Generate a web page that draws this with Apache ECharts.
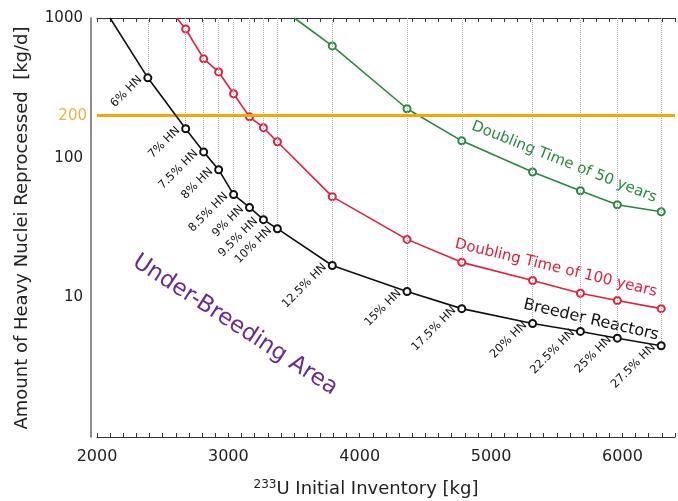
<!DOCTYPE html>
<html>
<head>
<meta charset="utf-8">
<script src="https://cdn.jsdelivr.net/npm/echarts@6/dist/echarts.min.js"></script>
<style>
html, body { margin: 0; padding: 0; background: #fff; }
#chart { width: 678px; height: 501px; }
</style>
</head>
<body>
<div id="chart"></div>
<script>
// breeder reactor points (HN fraction), x = 233U inventory [kg], y = kg/d
var inventory = [2387, 2675, 2812, 2926, 3040, 3161, 3267, 3373, 3791, 4360, 4777, 5316, 5680, 5961, 6295];
var hnLabels = ['6% HN', '7% HN', '7.5% HN', '8% HN', '8.5% HN', '9% HN', '9.5% HN', '10% HN',
	'12.5% HN', '15% HN', '17.5% HN', '20% HN', '22.5% HN', '25% HN', '27.5% HN'];
var breeder = [373, 161, 110, 82, 54.4, 44, 36, 31, 16.9, 11.0, 8.3, 6.5, 5.7, 5.1, 4.5];
var breederEntry = [2099, 1000];

var inventory100 = [2675, 2812, 2926, 3040, 3161, 3267, 3373, 3791, 4360, 4777, 5316, 5680, 5961, 6295];
var doubling100 = [834, 510, 411, 287, 196, 164, 130, 52.6, 26, 17.8, 13.2, 10.7, 9.5, 8.3];
var entry100 = [2607, 1000];

var inventory50 = [3791, 4360, 4777, 5316, 5680, 5961, 6295];
var doubling50 = [631, 224, 132, 79, 58, 46, 41];
var entry50 = [3502, 1000];

var xTicks = [2000, 3000, 4000, 5000, 6000];
var yTicks = [10, 100, 1000];
var threshold = 200;

var FONT = 'DejaVu Sans';

function pts(xs, ys, entry) {
	var out = [{ value: entry, symbol: 'none', label: { show: false } }];
	for (var i = 0; i < xs.length; i++) out.push([xs[i], ys[i]]);
	return out;
}

// dotted guides from the top down to each breeder point
var gridLines = inventory.map(function (x, i) {
	return [{ coord: [x, 1000] }, { coord: [x, breeder[i]] }];
});
gridLines.push({ yAxis: threshold, lineStyle: { color: '#f5a800', width: 3, type: 'solid' },
	label: { show: true, position: 'start', formatter: String(threshold), color: '#e8b54a',
		fontSize: 15, fontFamily: FONT, distance: 10 } });

var myChart = echarts.init(document.getElementById('chart'));
var option = {
	animation: false,
	textStyle: { fontFamily: FONT },
	grid: { left: 97, right: 1, top: 18, bottom: 64 },
	xAxis: [
		{
			type: 'value', min: 2000, max: 6400, interval: 1000,
			axisLine: { show: true, lineStyle: { color: '#333', width: 1 } },
			axisTick: { show: true, inside: true, length: 4, lineStyle: { color: '#333' } },
			minorTick: { show: true, splitNumber: 10, length: 4, lineStyle: { color: '#333' } },
			axisLabel: {
				fontSize: 16, color: '#222', margin: 12, fontFamily: FONT,
				formatter: function (v) { return xTicks.indexOf(v) >= 0 ? String(v) : ''; }
			},
			splitLine: { show: false }
		},
		{
			type: 'value', position: 'top', min: 2000, max: 6400, interval: 1000,
			axisLine: { show: true, lineStyle: { color: '#333', width: 1 } },
			axisTick: { show: true, inside: true, length: 4, lineStyle: { color: '#333' } },
			minorTick: { show: true, splitNumber: 10, length: 4, lineStyle: { color: '#333' } },
			axisLabel: { show: false },
			splitLine: { show: false }
		}
	],
	yAxis: {
		type: 'log', logBase: 10, min: 1, max: 1000, offset: 6,
		axisLine: { show: true, lineStyle: { color: '#666', width: 1.5 } },
		axisTick: { show: false },
		axisLabel: {
			fontSize: 15, color: '#222', margin: 8, fontFamily: FONT,
			formatter: function (v) { return yTicks.indexOf(v) >= 0 ? String(v) : ''; }
		},
		splitLine: { show: false }
	},
	series: [
		{
			type: 'line', data: [], silent: true, z: 1,
			markLine: {
				silent: true, symbol: ['none', 'none'], animation: false,
				label: { show: false },
				lineStyle: { color: '#aaa', type: 'dotted', width: 1 },
				data: gridLines
			}
		},
		{
			name: 'Breeder Reactors', type: 'line', z: 5,
			color: '#111',
			symbol: 'emptyCircle', symbolSize: 7, showAllSymbol: true,
			lineStyle: { width: 1.6 },
			itemStyle: { borderWidth: 1.5 },
			label: {
				show: true, position: 'left', rotate: 45, distance: 3,
				fontSize: 11.5, color: '#111', fontFamily: FONT,
				formatter: function (p) { return hnLabels[p.dataIndex - 1] || ''; }
			},
			data: pts(inventory, breeder, breederEntry)
		},
		{
			name: 'Doubling Time of 100 years', type: 'line', z: 4,
			color: '#e3203c',
			symbol: 'emptyCircle', symbolSize: 7, showAllSymbol: true,
			lineStyle: { width: 1.6 },
			itemStyle: { borderWidth: 1.5 },
			data: pts(inventory100, doubling100, entry100)
		},
		{
			name: 'Doubling Time of 50 years', type: 'line', z: 4,
			color: '#2a8a3c',
			symbol: 'emptyCircle', symbolSize: 7, showAllSymbol: true,
			lineStyle: { width: 1.6 },
			itemStyle: { borderWidth: 1.5 },
			data: pts(inventory50, doubling50, entry50)
		}
	],
	graphic: [
		{
			type: 'text', x: 22, y: 228, rotation: Math.PI / 2,
			style: { text: 'Amount of Heavy Nuclei Reprocessed  [kg/d]', fontSize: 18, fontFamily: FONT,
				fill: '#222', align: 'center', verticalAlign: 'middle' }
		},
		{
			type: 'text', x: 366, y: 489,
			style: { text: '{sup|233}U Initial Inventory [kg]', fontSize: 18, fontFamily: FONT,
				fill: '#222', align: 'center', verticalAlign: 'middle',
				rich: { sup: { fontSize: 12, fontFamily: FONT, fill: '#222', verticalAlign: 'top', padding: [0, 0, 8, 0] } } }
		},
		{
			type: 'text', x: 235, y: 325, rotation: -33 * Math.PI / 180,
			style: { text: 'Under-Breeding Area', fontSize: 23, fontFamily: FONT,
				fill: '#6a2a8e', align: 'center', verticalAlign: 'middle' }
		},
		{
			type: 'text', x: 591, y: 320, rotation: -13 * Math.PI / 180,
			style: { text: 'Breeder Reactors', fontSize: 16, fontFamily: FONT,
				fill: '#111', align: 'center', verticalAlign: 'middle' }
		},
		{
			type: 'text', x: 556, y: 268, rotation: -13.5 * Math.PI / 180,
			style: { text: 'Doubling Time of 100 years', fontSize: 15, fontFamily: FONT,
				fill: '#e3203c', align: 'center', verticalAlign: 'middle' }
		},
		{
			type: 'text', x: 564, y: 162, rotation: -21.6 * Math.PI / 180,
			style: { text: 'Doubling Time of 50 years', fontSize: 15, fontFamily: FONT,
				fill: '#2a8a3c', align: 'center', verticalAlign: 'middle' }
		}
	]
};
myChart.setOption(option);
</script>
</body>
</html>
